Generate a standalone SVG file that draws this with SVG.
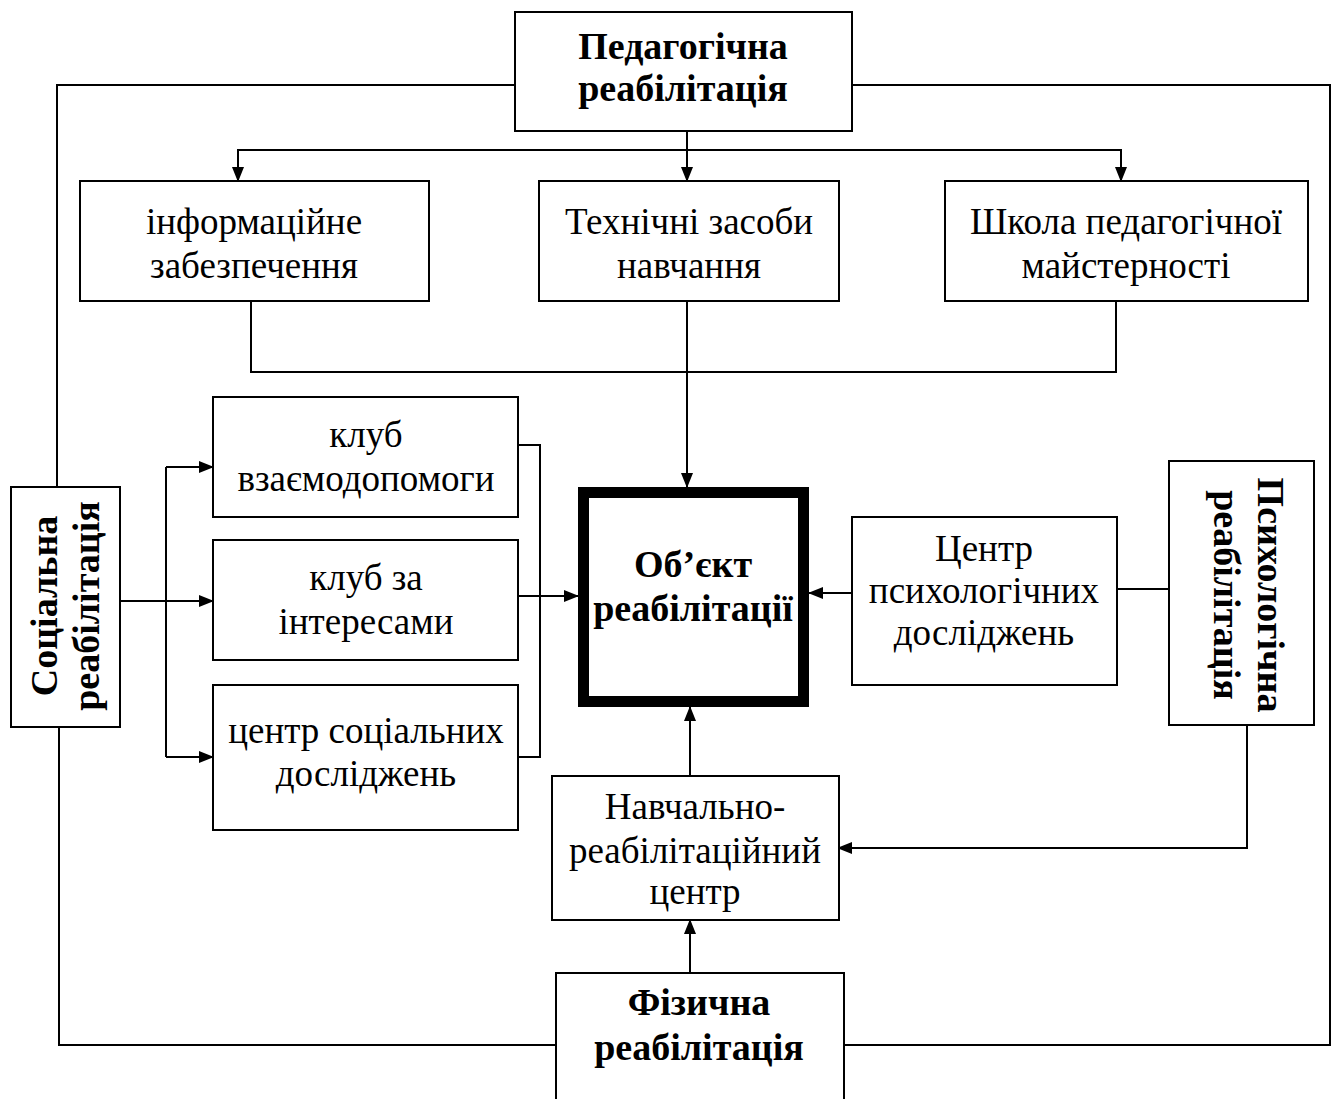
<svg xmlns="http://www.w3.org/2000/svg" width="1335" height="1099" viewBox="0 0 1335 1099">
<defs>
<marker id="ah" markerUnits="userSpaceOnUse" markerWidth="15" markerHeight="12" refX="14" refY="6" orient="auto">
<path d="M0,0 L15,6 L0,12 Z" fill="#000"/>
</marker>
<style>
.box{fill:#fff;stroke:#000;stroke-width:2}
.thick{fill:#fff;stroke:#000;stroke-width:11}
.ln{fill:none;stroke:#000;stroke-width:2}
.ar{fill:none;stroke:#000;stroke-width:2;marker-end:url(#ah)}
text{font-family:"Liberation Serif","Times New Roman",serif;font-size:37px;fill:#000;text-anchor:middle}
.b{font-weight:bold;font-size:38px}
</style>
</defs>
<rect width="1335" height="1099" fill="#fff"/>
<g id="connectors">
<polyline class="ln" points="515,85 57,85 57,487"/>
<polyline class="ln" points="852,85 1330,85 1330,1045 845,1045"/>
<polyline class="ln" points="59,727 59,1045 556,1045"/>
<line class="ln" x1="687" y1="131" x2="687" y2="150"/>
<polyline class="ln" points="238,180 238,150 1121,150 1121,180"/>
<line class="ar" x1="238" y1="150" x2="238" y2="181"/>
<line class="ar" x1="687" y1="150" x2="687" y2="181"/>
<line class="ar" x1="1121" y1="150" x2="1121" y2="181"/>
<polyline class="ln" points="251,301 251,372 1116,372 1116,301"/>
<line class="ar" x1="687" y1="301" x2="687" y2="487"/>
<line class="ar" x1="120" y1="601" x2="213" y2="601"/>
<polyline class="ln" points="166,601 166,467"/>
<line class="ar" x1="166" y1="467" x2="213" y2="467"/>
<polyline class="ln" points="166,601 166,757"/>
<line class="ar" x1="166" y1="757" x2="213" y2="757"/>
<polyline class="ln" points="518,445 540,445 540,757 518,757"/>
<line class="ar" x1="518" y1="596" x2="578" y2="596"/>
<line class="ar" x1="852" y1="593" x2="809" y2="593"/>
<line class="ln" x1="1117" y1="589" x2="1169" y2="589"/>
<polyline class="ln" points="1247,725 1247,848 1000,848"/>
<line class="ar" x1="1247" y1="848" x2="838" y2="848"/>
<line class="ar" x1="690" y1="776" x2="690" y2="707"/>
<line class="ar" x1="690" y1="973" x2="690" y2="920"/>
</g>
<g id="ped">
<rect class="box" x="515" y="12" width="337" height="119"/>
<text class="b" x="683" y="59">Педагогічна</text>
<text class="b" x="683" y="101">реабілітація</text>
</g>
<g id="info">
<rect class="box" x="80" y="181" width="349" height="120"/>
<text x="254" y="234">інформаційне</text>
<text x="254" y="278">забезпечення</text>
</g>
<g id="tech">
<rect class="box" x="539" y="181" width="300" height="120"/>
<text x="689" y="234">Технічні засоби</text>
<text x="689" y="278">навчання</text>
</g>
<g id="school">
<rect class="box" x="945" y="181" width="363" height="120"/>
<text x="1126" y="234">Школа педагогічної</text>
<text x="1126" y="278">майстерності</text>
</g>
<g id="social">
<rect class="box" x="11" y="487" width="109" height="240"/>
<g transform="translate(65.5,606) rotate(-90)">
<text class="b" x="0" y="-9">Соціальна</text>
<text class="b" x="0" y="33">реабілітація</text>
</g>
</g>
<g id="klub1">
<rect class="box" x="213" y="397" width="305" height="120"/>
<text x="366" y="447">клуб</text>
<text x="366" y="491">взаємодопомоги</text>
</g>
<g id="klub2">
<rect class="box" x="213" y="540" width="305" height="120"/>
<text x="366" y="590">клуб за</text>
<text x="366" y="634">інтересами</text>
</g>
<g id="socres">
<rect class="box" x="213" y="685" width="305" height="145"/>
<text x="366" y="743">центр соціальних</text>
<text x="366" y="786">досліджень</text>
</g>
<g id="object">
<rect class="thick" x="583.5" y="492.5" width="220" height="209"/>
<text class="b" x="693" y="577">Об’єкт</text>
<text class="b" x="693" y="621">реабілітації</text>
</g>
<g id="psyres">
<rect class="box" x="852" y="517" width="265" height="168"/>
<text x="984" y="561">Центр</text>
<text x="984" y="603">психологічних</text>
<text x="984" y="645">досліджень</text>
</g>
<g id="psych">
<rect class="box" x="1169" y="461" width="145" height="264"/>
<g transform="translate(1241.5,595) rotate(90)">
<text class="b" x="0" y="-16">Психологічна</text>
<text class="b" x="0" y="28">реабілітація</text>
</g>
</g>
<g id="navch">
<rect class="box" x="552" y="776" width="287" height="144"/>
<text x="695" y="819">Навчально-</text>
<text x="695" y="863">реабілітаційний</text>
<text x="695" y="904">центр</text>
</g>
<g id="phys">
<rect class="box" x="556" y="973" width="288" height="140"/>
<text class="b" x="699" y="1015">Фізична</text>
<text class="b" x="699" y="1060">реабілітація</text>
</g>
</svg>
